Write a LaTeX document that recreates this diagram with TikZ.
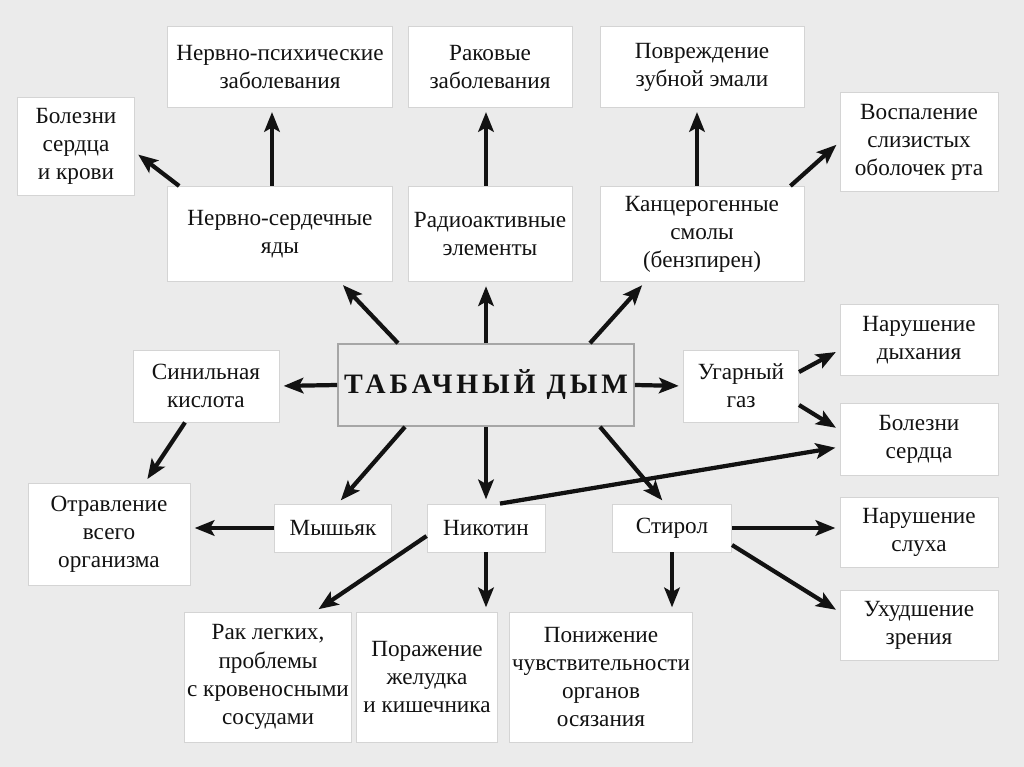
\documentclass[tikz,border=0pt]{standalone}
\usepackage{fontspec}
\setmainfont{Liberation Serif}
\newfontfamily\spacedfont[LetterSpace=14]{Liberation Serif}
\usetikzlibrary{arrows.meta, calc}
\usepackage{xcolor}
\definecolor{bggray}{HTML}{EBEBEB}
\definecolor{edgegray}{HTML}{D4D4D4}
\definecolor{inkblack}{HTML}{121212}

\begin{document}
\begin{tikzpicture}[
    x=0.025cm, y=-0.025cm,
    box/.style={draw=edgegray, fill=white, line width=0.6pt, align=center, inner sep=2pt,
        text=inkblack, font=\fontsize{16.5}{20}\selectfont},
    mainbox/.style={draw=gray!70, fill=bggray, line width=1.2pt, align=center,
        minimum width=7.4cm, minimum height=2.05cm, text=inkblack},
    arrow/.style={-{Stealth[length=14pt, width=11pt, inset=3pt]}, line width=3pt, inkblack, shorten >=3pt}
]
\useasboundingbox (0,0) rectangle (1024,767);
\fill[bggray] (0,0) rectangle (1024,767);

% центр
\node[mainbox] (smoke) at (486,385) {\spacedfont\bfseries\fontsize{20}{24}\selectfont ТАБАЧНЫЙ ДЫМ};

% верхний ряд
\node[box, minimum width=5.62cm, minimum height=2.02cm] (psych) at (280,67) {Нервно-психические\\заболевания};
\node[box, minimum width=4.1cm, minimum height=2.02cm] (cancer) at (490,67) {Раковые\\заболевания};
\node[box, minimum width=5.1cm, minimum height=2.02cm] (enamel) at (702,67) {Повреждение\\зубной эмали};
\node[box, minimum width=2.92cm, minimum height=2.45cm] (heartblood) at (76,146) {Болезни\\сердца\\и крови};
\node[box, minimum width=3.95cm, minimum height=2.48cm] (mucosa) at (919,142) {Воспаление\\слизистых\\оболочек рта};

% вещества
\node[box, minimum width=5.62cm, minimum height=2.38cm] (poisons) at (280,234) {Нервно-сердечные\\яды};
\node[box, minimum width=4.1cm, minimum height=2.38cm] (radio) at (490,234) {Радиоактивные\\элементы};
\node[box, minimum width=5.1cm, minimum height=2.38cm] (tar) at (702,234) {Канцерогенные\\смолы\\(бензпирен)};
\node[box, minimum width=3.65cm, minimum height=1.8cm] (hcn) at (206,386) {Синильная\\кислота};
\node[box, minimum width=2.88cm, minimum height=1.8cm] (co) at (741,386) {Угарный\\газ};
\node[box, minimum width=2.92cm, minimum height=1.2cm] (arsenic) at (333,528) {Мышьяк};
\node[box, minimum width=2.95cm, minimum height=1.2cm] (nicotine) at (486,528) {Никотин};
\node[box, minimum width=2.98cm, minimum height=1.2cm] (styrene) at (672,528) {Стирол};

% последствия справа
\node[box, minimum width=3.95cm, minimum height=1.78cm] (breath) at (919,340) {Нарушение\\дыхания};
\node[box, minimum width=3.95cm, minimum height=1.8cm] (heart) at (919,439) {Болезни\\сердца};
\node[box, minimum width=3.95cm, minimum height=1.75cm] (hearing) at (919,532) {Нарушение\\слуха};
\node[box, minimum width=3.95cm, minimum height=1.75cm] (vision) at (919,625) {Ухудшение\\зрения};

% последствия слева и снизу
\node[box, minimum width=4.05cm, minimum height=2.55cm] (poison) at (109,534) {Отравление\\всего\\организма};
\node[box, minimum width=3.75cm, minimum height=3.25cm] (lung) at (268,677) {Рак легких,\\проблемы\\с кровеносными\\сосудами};
\node[box, minimum width=3.52cm, minimum height=3.25cm] (stomach) at (427,677) {Поражение\\желудка\\и кишечника};
\node[box, minimum width=4.4cm, minimum height=3.25cm] (touch) at (601,677) {Понижение\\чувствительности\\органов\\осязания};

% стрелки от дыма
\draw[arrow] ($(smoke.north)+(-88,0)$) -- ($(poisons.south)+(60,0)$);
\draw[arrow] (smoke.north) -- (smoke.north |- radio.south);
\draw[arrow] ($(smoke.north)+(104,0)$) -- ($(tar.south)+(-57,0)$);
\draw[arrow] (smoke.west) -- (hcn.east);
\draw[arrow] (smoke.east) -- (co.west);
\draw[arrow] ($(smoke.south)+(-81,0)$) -- ($(arsenic.north)+(5,0)$);
\draw[arrow] (smoke.south) -- (nicotine.north);
\draw[arrow] ($(smoke.south)+(114,0)$) -- ($(styrene.north)+(-7,0)$);

% верх
\draw[arrow] ($(poisons.north)+(-8,0)$) -- ($(psych.south)+(-8,0)$);
\draw[arrow] ($(poisons.north west)+(12,0)$) -- ($(heartblood.east)+(0,6)$);
\draw[arrow] ($(radio.north)+(-4,0)$) -- ($(cancer.south)+(-4,0)$);
\draw[arrow] ($(tar.north)+(-5,0)$) -- ($(enamel.south)+(-5,0)$);
\draw[arrow] ($(tar.north east)+(-14,0)$) -- (mucosa.west);

% бока
\draw[arrow] ($(co.east)+(0,-14)$) -- ($(breath.west)+(0,10)$);
\draw[arrow] ($(co.east)+(0,19)$) -- ($(heart.west)+(0,-9)$);
\draw[arrow] ($(hcn.south)+(-21,0)$) -- ($(poison.north)+(36,0)$);
\draw[arrow] (arsenic.west) -- (arsenic.west -| poison.east);

% низ
\draw[arrow] ($(nicotine.north)+(14,0)$) -- ($(heart.west)+(0,8)$);
\draw[arrow] ($(nicotine.west)+(0,8)$) -- ($(lung.north)+(47,0)$);
\draw[arrow] (nicotine.south) -- (nicotine.south |- stomach.north);
\draw[arrow] (styrene.east) -- (styrene.east -| hearing.west);
\draw[arrow] ($(styrene.east)+(0,17)$) -- ($(vision.west)+(0,-13)$);
\draw[arrow] (styrene.south) -- (styrene.south |- touch.north);

\end{tikzpicture}
\end{document}
